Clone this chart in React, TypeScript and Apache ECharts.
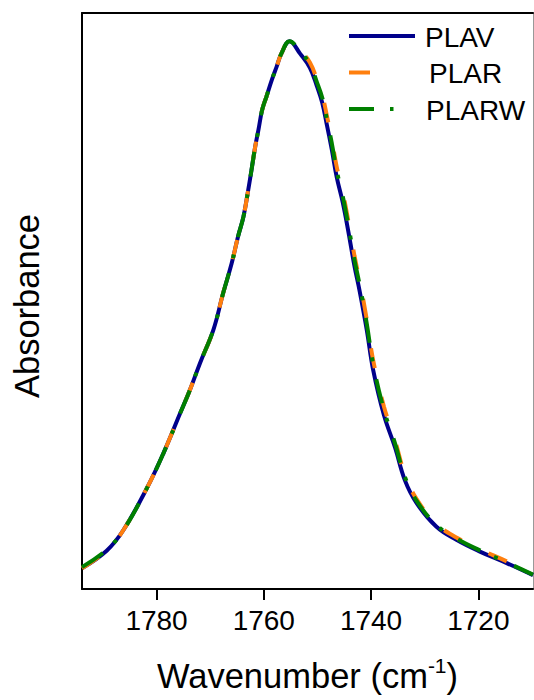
import React, { useEffect, useRef } from "react";
import * as echarts from "echarts";

const FONT = "'Liberation Sans', Arial, Helvetica, sans-serif";

// wavenumber (cm-1) sample positions, high to low
const wavenumbers = [
  1793.9, 1789.3, 1786.2, 1781.8, 1778.7, 1775.6, 1773.8, 1771.9, 1769.4, 1767.6,
  1766.0, 1764.8, 1763.8, 1762.9, 1762.3, 1761.6, 1761.0, 1760.3, 1759.5, 1758.5,
  1757.6, 1756.7, 1755.2, 1753.2, 1751.4, 1750.1, 1749.1, 1748.2, 1747.3, 1746.4,
  1745.3, 1744.3, 1743.1, 1742.1, 1740.8, 1739.6, 1737.6, 1735.5, 1733.7, 1731.5,
  1727.8, 1724.0, 1719.7, 1714.7, 1709.8,
];

const plavValues = [
  0.036, 0.0665, 0.102, 0.175, 0.236, 0.305, 0.345, 0.392, 0.45, 0.513,
  0.565, 0.612, 0.646, 0.693, 0.727, 0.768, 0.797, 0.832, 0.855, 0.884,
  0.907, 0.93, 0.951, 0.929, 0.905, 0.873, 0.844, 0.804, 0.762, 0.715,
  0.672, 0.624, 0.561, 0.516, 0.45, 0.38, 0.302, 0.245, 0.189, 0.149,
  0.108, 0.085, 0.065, 0.045, 0.024,
];

const plarValues = [
  0.036, 0.0665, 0.102, 0.175, 0.236, 0.305, 0.345, 0.392, 0.45, 0.513,
  0.565, 0.612, 0.646, 0.693, 0.727, 0.768, 0.797, 0.832, 0.855, 0.884,
  0.907, 0.93, 0.951, 0.935, 0.914, 0.885, 0.858, 0.82, 0.779, 0.733,
  0.69, 0.642, 0.579, 0.534, 0.468, 0.397, 0.317, 0.257, 0.199, 0.156,
  0.113, 0.089, 0.069, 0.048, 0.026,
];

const plarwValues = [
  0.038, 0.068, 0.102, 0.175, 0.236, 0.305, 0.345, 0.392, 0.45, 0.513,
  0.565, 0.612, 0.646, 0.693, 0.727, 0.768, 0.797, 0.832, 0.855, 0.884,
  0.907, 0.93, 0.951, 0.933, 0.911, 0.88, 0.853, 0.814, 0.773, 0.726,
  0.683, 0.635, 0.572, 0.527, 0.461, 0.39, 0.311, 0.252, 0.195, 0.153,
  0.111, 0.087, 0.067, 0.046, 0.025,
];

const tickValues = [1720, 1740, 1760, 1780];
const seriesNames = ["PLAV", "PLAR", "PLARW"];
const seriesColors = ["#00008B", "#FF7F0E", "#008000"];

const pairs = (vals: number[]) => wavenumbers.map((w, i) => [w, vals[i]]);

export default function App() {
  const ref = useRef<HTMLDivElement>(null);

  useEffect(() => {
    if (!ref.current) return;
    const chart = echarts.init(ref.current, undefined, { renderer: "svg" });
    const option: any = {
      animation: false,
      backgroundColor: "#ffffff",
      grid: { left: 82, top: 13, width: 451, height: 576 },
      xAxis: [
        {
          type: "value",
          inverse: true,
          min: 1709.8,
          max: 1793.9,
          position: "bottom",
          name: "{a|Wavenumber (cm}{s|-1}{a|)}",
          nameLocation: "middle",
          nameGap: 66,
          nameTextStyle: {
            rich: {
              a: { fontSize: 34.5, fontFamily: FONT, color: "#000", lineHeight: 42 },
              s: { fontSize: 21, fontFamily: FONT, color: "#000", verticalAlign: "top", lineHeight: 42 },
            },
          },
          axisLine: { show: true, lineStyle: { color: "#000", width: 2 } },
          axisTick: {
            show: true,
            length: 11,
            inside: false,
            customValues: tickValues,
            lineStyle: { color: "#000", width: 2 },
          },
          axisLabel: {
            show: true,
            customValues: tickValues,
            formatter: (v: number) => String(Math.round(v)),
            fontSize: 28,
            fontFamily: FONT,
            color: "#000",
            margin: 17,
          },
          splitLine: { show: false },
        },
        {
          type: "value",
          inverse: true,
          min: 1709.8,
          max: 1793.9,
          position: "top",
          axisLine: { show: true, onZero: false, lineStyle: { color: "#000", width: 2 } },
          axisTick: { show: false },
          axisLabel: { show: false },
          splitLine: { show: false },
        },
      ],
      yAxis: [
        {
          type: "value",
          min: 0,
          max: 1,
          position: "left",
          name: "Absorbance",
          nameLocation: "middle",
          nameRotate: 90,
          nameGap: 38,
          nameTextStyle: { fontSize: 34.5, fontFamily: FONT, color: "#000", padding: [0, 10, 0, 0] },
          axisLine: { show: true, onZero: false, lineStyle: { color: "#000", width: 2 } },
          axisTick: { show: false },
          axisLabel: { show: false },
          splitLine: { show: false },
        },
        {
          type: "value",
          min: 0,
          max: 1,
          position: "right",
          axisLine: { show: true, onZero: false, lineStyle: { color: "#999", width: 1 } },
          axisTick: { show: false },
          axisLabel: { show: false },
          splitLine: { show: false },
        },
      ],
      series: [
        {
          name: seriesNames[0],
          type: "line",
          data: pairs(plavValues),
          smooth: 0.4,
          symbol: "none",
          lineStyle: { color: seriesColors[0], width: 4, type: "solid" },
          z: 2,
        },
        {
          name: seriesNames[1],
          type: "line",
          data: pairs(plarValues),
          smooth: 0.4,
          symbol: "none",
          lineStyle: { color: seriesColors[1], width: 4, type: [20, 30], cap: "butt" },
          z: 3,
        },
        {
          name: seriesNames[2],
          type: "line",
          data: pairs(plarwValues),
          smooth: 0.4,
          symbol: "none",
          lineStyle: { color: seriesColors[2], width: 4, type: [25, 15, 4, 18], cap: "butt" },
          z: 4,
        },
      ],
      graphic: [
        { type: "line", shape: { x1: 349, y1: 36, x2: 415, y2: 36 }, style: { stroke: seriesColors[0], lineWidth: 4 } },
        { type: "line", shape: { x1: 349, y1: 72.5, x2: 370, y2: 72.5 }, style: { stroke: seriesColors[1], lineWidth: 4 } },
        { type: "line", shape: { x1: 349, y1: 109, x2: 374, y2: 109 }, style: { stroke: seriesColors[2], lineWidth: 4 } },
        { type: "line", shape: { x1: 390, y1: 109, x2: 393.5, y2: 109 }, style: { stroke: seriesColors[2], lineWidth: 4 } },
        {
          type: "text",
          x: 425,
          y: 37,
          style: { text: seriesNames[0], fontSize: 28, fontFamily: FONT, fill: "#000", verticalAlign: "middle" },
        },
        {
          type: "text",
          x: 429,
          y: 73.5,
          style: { text: seriesNames[1], fontSize: 28, fontFamily: FONT, fill: "#000", verticalAlign: "middle" },
        },
        {
          type: "text",
          x: 426,
          y: 110,
          style: { text: seriesNames[2], fontSize: 28, fontFamily: FONT, fill: "#000", verticalAlign: "middle" },
        },
      ],
    };
    chart.setOption(option);
    return () => chart.dispose();
  }, []);

  return (
    <div
      ref={ref}
      style={{ position: "absolute", left: 0, top: 0, width: 534, height: 700, background: "#fff" }}
    />
  );
}
